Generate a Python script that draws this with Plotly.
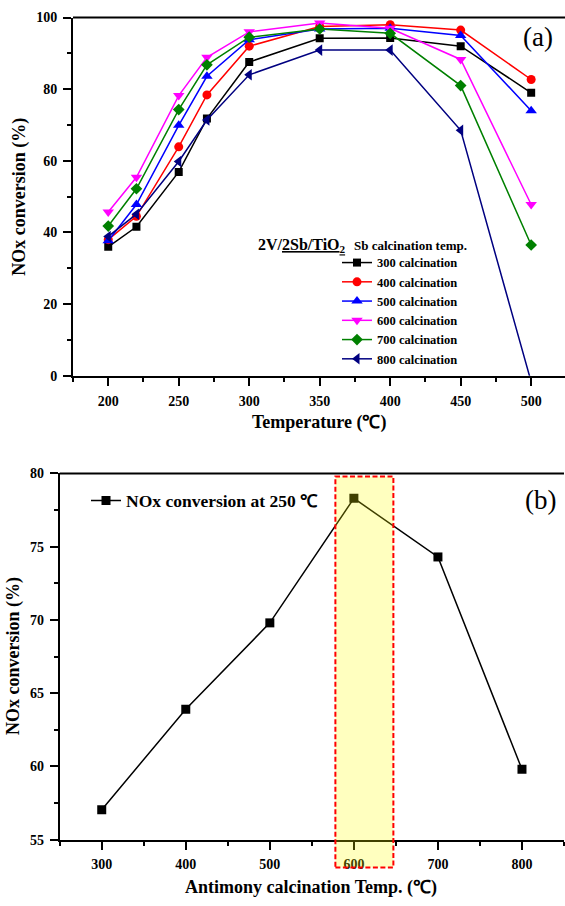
import plotly.graph_objects as go

W, H = 565, 906
SERIF = "Liberation Serif"

# (a) NOx conversion vs reaction temperature for each Sb calcination temperature
temperature = [200, 220, 250, 270, 300, 350, 400, 450, 500]
series_names = ["300 calcination", "400 calcination", "500 calcination",
                "600 calcination", "700 calcination", "800 calcination"]
conv_300 = [36.0, 41.6, 56.9, 71.8, 87.6, 94.2, 94.3, 92.0, 79.0]
conv_400 = [38.0, 44.5, 63.9, 78.4, 92.0, 97.5, 98.0, 96.5, 82.7]
conv_500 = [37.7, 47.8, 69.9, 83.6, 93.8, 96.8, 97.0, 95.0, 74.0]
conv_600 = [45.7, 55.4, 78.2, 88.9, 96.0, 98.5, 97.0, 88.3, 47.8]
conv_700 = [41.8, 52.2, 74.3, 86.8, 94.5, 96.8, 95.6, 81.0, 36.5]
conv_800 = [38.9, 45.1, 59.8, 71.4, 84.0, 90.9, 90.9, 68.5, -1.7]
series_values = [conv_300, conv_400, conv_500, conv_600, conv_700, conv_800]

# (b) NOx conversion at 250 C vs antimony calcination temperature
sb_calc_temp = [300, 400, 500, 600, 700, 800]
conv_at_250 = [57.05, 63.9, 69.8, 78.3, 74.3, 59.8]

# highlighted window around the optimum
hl_x = [578, 647]
hl_y = [53.1, 79.8]

colors = ["#000000", "#ff0000", "#0000ff", "#ff00ff", "#008000", "#000080"]
symbols = ["square", "circle", "triangle-up", "triangle-down", "diamond", "triangle-left"]
msizes = [8, 9, 10, 10, 9, 10]

xa_range = [175, 524]
ya_range = [0, 100]
xb_range = [250, 850]
yb_range = [55, 80]

fig = go.Figure()

for name, vals, c, s, ms in zip(series_names, series_values, colors, symbols, msizes):
    fig.add_trace(go.Scatter(
        x=temperature, y=vals, name=name, mode="lines+markers",
        line=dict(color=c, width=1.5),
        marker=dict(symbol=s, size=ms, color=c),
        xaxis="x", yaxis="y", legend="legend",
    ))

fig.add_trace(go.Scatter(
    x=sb_calc_temp, y=conv_at_250, name="NOx conversion at 250 \u2103",
    mode="lines+markers",
    line=dict(color="#000000", width=1.5),
    marker=dict(symbol="square", size=9, color="#000000"),
    xaxis="x2", yaxis="y2", legend="legend2",
))


def px_x(p):
    return p / W


def px_y(p):
    return 1 - p / H


tickfont = dict(family=SERIF, size=14, color="black", weight="bold")
axis_common = dict(
    showline=True, linecolor="black", linewidth=2, mirror=False,
    ticks="outside", ticklen=8, tickwidth=1.5, tickcolor="black",
    showgrid=False, zeroline=False, tickfont=tickfont, ticklabelstandoff=3,
)

fig.update_layout(
    width=W, height=H,
    margin=dict(l=0, r=0, t=0, b=0),
    paper_bgcolor="white", plot_bgcolor="white",
    xaxis=dict(domain=[px_x(73), 1.0], range=xa_range, dtick=50, tick0=200,
               minor=dict(ticks="outside", ticklen=4, tickwidth=1.5, dtick=25, tick0=175,
                          tickcolor="black"),
               anchor="y", **axis_common),
    yaxis=dict(domain=[px_y(375), px_y(10.7)], range=ya_range, dtick=20, tick0=0,
               minor=dict(ticks="outside", ticklen=4, tickwidth=1.5, dtick=10,
                          tickcolor="black"),
               anchor="x", **axis_common),
    xaxis2=dict(domain=[px_x(59.7), px_x(564)], range=xb_range, dtick=100, tick0=300,
                minor=dict(ticks="outside", ticklen=4, tickwidth=1.5, dtick=50, tick0=250,
                           tickcolor="black"),
                anchor="y2", **axis_common),
    yaxis2=dict(domain=[px_y(846.7), px_y(474.3)], range=yb_range, dtick=5, tick0=55,
                minor=dict(ticks="outside", ticklen=4, tickwidth=1.5, dtick=2.5,
                           tickcolor="black"),
                anchor="x2", **axis_common),
    legend=dict(x=px_x(337), y=px_y(245), xanchor="left", yanchor="top",
                bgcolor="rgba(0,0,0,0)", borderwidth=0, itemwidth=30,
                tracegroupgap=0,
                font=dict(family=SERIF, size=12.5, color="black", weight="bold")),
    legend2=dict(x=px_x(86), y=px_y(502), xanchor="left", yanchor="middle",
                 bgcolor="rgba(0,0,0,0)", borderwidth=0, itemwidth=30,
                 font=dict(family=SERIF, size=17.5, color="black", weight="bold")),
    showlegend=True,
)

# top frame lines
for xr, yr in (("x domain", "y domain"), ("x2 domain", "y2 domain")):
    fig.add_shape(type="line", xref=xr, yref=yr, x0=0, x1=1, y0=1, y1=1,
                  line=dict(color="black", width=2))

# highlight box around 600 C (drawn over the data, not clipped to the plot)
fx = [(v - xb_range[0]) / (xb_range[1] - xb_range[0]) for v in hl_x]
fy = [(v - yb_range[0]) / (yb_range[1] - yb_range[0]) for v in hl_y]
fig.add_shape(type="rect", xref="x2 domain", yref="y2 domain",
              x0=fx[0], x1=fx[1], y0=fy[0], y1=fy[1], layer="above",
              fillcolor="rgba(255,255,0,0.25)",
              line=dict(color="#ff0000", width=2, dash="5px,2.5px"))

title_font = dict(family=SERIF, size=18, color="black", weight="bold")
annotations = [
    dict(text="NOx conversion (%)", x=px_x(20), y=px_y(193), textangle=-90, font=title_font),
    dict(text="Temperature (\u2103)", x=px_x(319), y=px_y(423), font=title_font),
    dict(text="NOx conversion (%)", x=px_x(13), y=px_y(660), textangle=-90, font=title_font),
    dict(text="Antimony calcination Temp. (\u2103)", x=px_x(311), y=px_y(895), font=title_font),
    dict(text="(a)", x=px_x(538), y=px_y(31), font=dict(family=SERIF, size=27, color="black")),
    dict(text="(b)", x=px_x(540), y=px_y(501), font=dict(family=SERIF, size=27, color="black")),
    dict(text="2V/<span style='text-decoration:underline'>2Sb/TiO<sub>2</sub></span>",
         x=px_x(256), y=px_y(243), xanchor="left",
         font=dict(family=SERIF, size=16, color="black", weight="bold")),
    dict(text="Sb calcination temp.", x=px_x(352), y=px_y(243), xanchor="left",
         font=dict(family=SERIF, size=13, color="black", weight="bold")),
]
for a in annotations:
    a.setdefault("xanchor", "center")
    fig.add_annotation(xref="paper", yref="paper", showarrow=False, yanchor="middle", **a)

fig.write_html("out.html")
